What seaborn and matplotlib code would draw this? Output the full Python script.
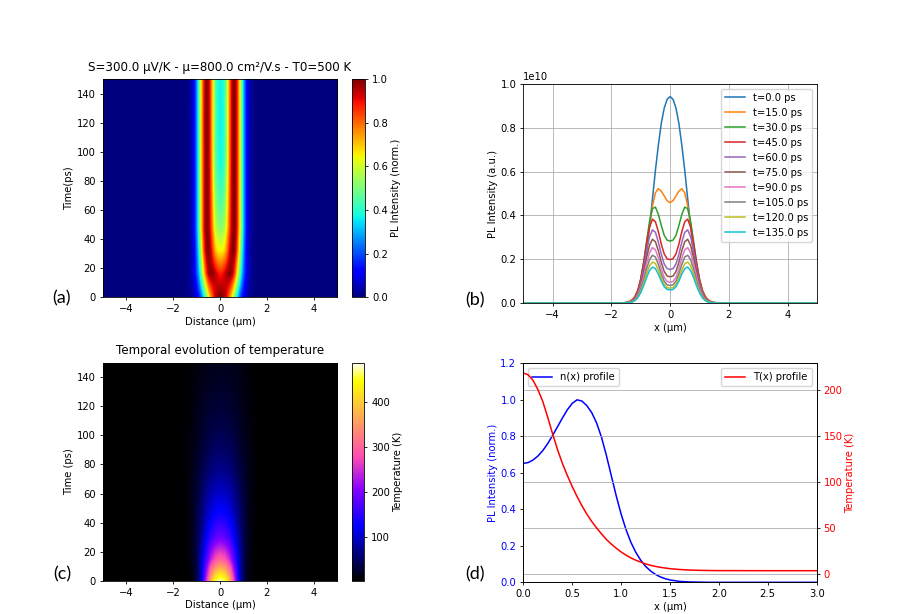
import numpy as np
import pandas as pd
import matplotlib
matplotlib.use("Agg")
import matplotlib.pyplot as plt
import seaborn as sns

plt.rcParams.update({
    "font.family": ["DejaVu Sans"],
    "font.size": 7.2,
    "axes.titlesize": 8.6,
    "legend.fontsize": 7.2,
    "axes.linewidth": 0.6,
    "axes.labelpad": 2.0,
    "lines.linewidth": 1.1,
    "xtick.major.width": 0.6,
    "ytick.major.width": 0.6,
    "xtick.major.size": 2.5,
    "ytick.major.size": 2.5,
    "xtick.major.pad": 2.5,
    "ytick.major.pad": 2.5,
    "grid.linewidth": 0.6,
})

# ---- panel (b) / (a): PL half profiles (x >= 0, symmetric), units of 1e10
x_pl = np.round(np.arange(0, 2.05, 0.1), 2)
times_ps = [0.0, 15.0, 30.0, 45.0, 60.0, 75.0, 90.0, 105.0, 120.0, 135.0]

pl_t0 = [0.943, 0.930, 0.890, 0.820, 0.720, 0.605, 0.475, 0.350, 0.235, 0.150, 0.090,
         0.052, 0.028, 0.014, 0.007, 0.003, 0.001, 0.0, 0.0, 0.0, 0.0]
pl_t15 = [0.458, 0.467, 0.489, 0.511, 0.522, 0.503, 0.443, 0.356, 0.262, 0.175, 0.107,
          0.060, 0.031, 0.014, 0.006, 0.002, 0.001, 0.0, 0.0, 0.0, 0.0]
pl_t30 = [0.283, 0.287, 0.309, 0.354, 0.405, 0.438, 0.431, 0.372, 0.281, 0.186, 0.108,
          0.055, 0.024, 0.009, 0.003, 0.001, 0.0, 0.0, 0.0, 0.0, 0.0]
pl_t45 = [0.198, 0.202, 0.224, 0.269, 0.326, 0.371, 0.383, 0.346, 0.272, 0.185, 0.109,
          0.056, 0.025, 0.009, 0.003, 0.001, 0.0, 0.0, 0.0, 0.0, 0.0]
pl_t60 = [0.153, 0.157, 0.178, 0.223, 0.278, 0.323, 0.334, 0.302, 0.237, 0.161, 0.095,
          0.049, 0.022, 0.008, 0.003, 0.001, 0.0, 0.0, 0.0, 0.0, 0.0]
pl_t75 = [0.120, 0.123, 0.144, 0.186, 0.239, 0.280, 0.291, 0.263, 0.207, 0.141, 0.083,
          0.042, 0.019, 0.007, 0.002, 0.001, 0.0, 0.0, 0.0, 0.0, 0.0]
pl_t90 = [0.095, 0.098, 0.117, 0.156, 0.205, 0.243, 0.253, 0.229, 0.180, 0.122, 0.072,
          0.037, 0.016, 0.006, 0.002, 0.001, 0.0, 0.0, 0.0, 0.0, 0.0]
pl_t105 = [0.080, 0.083, 0.099, 0.133, 0.176, 0.210, 0.218, 0.198, 0.155, 0.105, 0.062,
           0.032, 0.014, 0.005, 0.002, 0.001, 0.0, 0.0, 0.0, 0.0, 0.0]
pl_t120 = [0.068, 0.070, 0.085, 0.114, 0.151, 0.180, 0.187, 0.170, 0.133, 0.090, 0.053,
           0.027, 0.012, 0.005, 0.002, 0.0, 0.0, 0.0, 0.0, 0.0, 0.0]
pl_t135 = [0.060, 0.062, 0.074, 0.100, 0.132, 0.157, 0.164, 0.148, 0.116, 0.079, 0.047,
           0.024, 0.011, 0.004, 0.001, 0.0, 0.0, 0.0, 0.0, 0.0, 0.0]
pl_profiles = [pl_t0, pl_t15, pl_t30, pl_t45, pl_t60, pl_t75, pl_t90, pl_t105, pl_t120, pl_t135]

# ---- panel (c): temperature (K), half profiles x = 0..2 um, every 15 ps
x_temp = np.round(np.arange(0, 2.05, 0.2), 2)
t_temp = [0, 15, 30, 45, 60, 75, 90, 105, 120, 135, 150]
temp_t0 = [487, 460, 385, 250, 110, 35, 9, 3.5, 2.2, 2, 2]
temp_t15 = [300, 285, 240, 170, 95, 40, 14, 5, 2.7, 2.2, 2]
temp_t30 = [190, 182, 158, 120, 75, 38, 16, 6.5, 3.3, 2.4, 2.1]
temp_t45 = [135, 130, 115, 90, 60, 34, 16, 7.5, 3.8, 2.6, 2.2]
temp_t60 = [100, 96, 86, 70, 49, 30, 16, 8, 4.2, 2.8, 2.3]
temp_t75 = [72, 69, 62, 51, 37, 24, 14, 7.5, 4.2, 2.9, 2.4]
temp_t90 = [52, 50, 46, 38, 28, 19, 12, 7, 4.1, 3.0, 2.4]
temp_t105 = [38, 37, 34, 29, 22, 15, 10, 6.2, 4.0, 3.0, 2.4]
temp_t120 = [28, 27, 25.5, 22, 17.5, 12.5, 8.5, 5.6, 3.8, 2.9, 2.4]
temp_t135 = [21, 20.5, 19.3, 17, 14, 10.5, 7.3, 5.0, 3.6, 2.8, 2.4]
temp_t150 = [16, 15.6, 14.8, 13.2, 11.2, 8.7, 6.4, 4.5, 3.3, 2.7, 2.3]
temp_rows = [temp_t0, temp_t15, temp_t30, temp_t45, temp_t60, temp_t75,
             temp_t90, temp_t105, temp_t120, temp_t135, temp_t150]
T_AMBIENT = 2.0

# ---- panel (d): single profiles
x_prof = [0.0, 0.05, 0.1, 0.15, 0.2, 0.25, 0.3, 0.35, 0.4, 0.45, 0.5, 0.55, 0.6, 0.65,
          0.7, 0.75, 0.8, 0.85, 0.9, 0.95, 1.0, 1.05, 1.1, 1.15, 1.2, 1.25, 1.3, 1.35,
          1.4, 1.45, 1.5, 1.6, 1.7, 1.8, 1.9, 2.0, 2.5, 3.0]
n_prof = [0.652, 0.656, 0.670, 0.692, 0.722, 0.760, 0.805, 0.852, 0.900, 0.945, 0.980,
          1.000, 0.993, 0.968, 0.930, 0.873, 0.795, 0.695, 0.585, 0.475, 0.375, 0.290,
          0.220, 0.165, 0.122, 0.088, 0.063, 0.044, 0.030, 0.020, 0.013, 0.005, 0.002,
          0.001, 0.0, 0.0, 0.0, 0.0]
T_prof = [218, 216, 210, 200, 187, 170, 152, 135, 120, 107, 95, 84, 74, 65, 57, 50,
          43.5, 37.5, 32.5, 28, 24, 20.5, 17.5, 15, 13, 11, 9.5, 8.3, 7.3, 6.5, 5.8,
          4.9, 4.3, 4.0, 3.8, 3.7, 3.6, 3.6]


def mirror(v):
    v = np.asarray(v, dtype=float)
    return np.concatenate([v[:0:-1], v])


fig = plt.figure(figsize=(8.98, 6.14), dpi=100)

# ---------------- (a) normalised PL map
n_pad = 30  # zero columns from 2.1 to 5.0 um
img_a = np.array([mirror(np.concatenate([p, np.zeros(n_pad)])) for p in pl_profiles])
img_a = img_a / img_a.max(axis=1, keepdims=True)
ax_a = fig.add_axes([0.1147, 0.5158, 0.2606, 0.3555])
im_a = ax_a.imshow(img_a, cmap="jet", origin="lower", aspect="auto",
                   extent=[-5.05, 5.05, -7.5, 150], interpolation="bilinear",
                   interpolation_stage="data", vmin=0, vmax=1)
ax_a.set_xlim(-5, 5)
ax_a.set_ylim(0, 150)
ax_a.set_title("S=300.0 µV/K - µ=800.0 cm²/V.s - T0=500 K")
ax_a.set_xlabel("Distance (µm)")
ax_a.set_ylabel("Time(ps)")
cax_a = fig.add_axes([0.392, 0.5158, 0.0145, 0.3555])
cb_a = fig.colorbar(im_a, cax=cax_a)
cb_a.set_label("PL Intensity (norm.)")
cb_a.outline.set_linewidth(0.6)

# ---------------- (b) PL profiles
ax_b = fig.add_axes([0.5827, 0.5065, 0.3270, 0.3567])
x_line = mirror(np.append(x_pl, 5.0)) * np.sign(np.arange(-len(x_pl), len(x_pl) + 1))
colors = sns.color_palette("tab10", len(pl_profiles))
for t, prof, c in zip(times_ps, pl_profiles, colors):
    y_line = mirror(np.append(prof, 0.0)) * 1e10
    sns.lineplot(x=x_line, y=y_line, ax=ax_b, color=c, label=f"t={t:.1f} ps",
                 linewidth=1.1, sort=False)
ax_b.set_xlim(-5, 5)
ax_b.set_ylim(0, 1.0e10)
ax_b.grid(True)
ax_b.set_xlabel("x (µm)")
ax_b.set_ylabel("PL Intensity (a.u.)")
ax_b.legend(loc="upper right")

# ---------------- (c) temperature map
n_pad_t = 15  # ambient columns from 2.2 to 5.0 um
img_c = np.array([mirror(np.concatenate([r, np.full(n_pad_t, T_AMBIENT)])) for r in temp_rows])
ax_c = fig.add_axes([0.1147, 0.0542, 0.2606, 0.3550])
im_c = ax_c.imshow(img_c, cmap="gnuplot2", origin="lower", aspect="auto",
                   extent=[-5.1, 5.1, -7.5, 157.5], interpolation="bilinear",
                   interpolation_stage="data")
ax_c.set_xlim(-5, 5)
ax_c.set_ylim(0, 150)
ax_c.set_title("Temporal evolution of temperature")
ax_c.set_xlabel("Distance (µm)")
ax_c.set_ylabel("Time (ps)")
cax_c = fig.add_axes([0.392, 0.0542, 0.0135, 0.3550])
cb_c = fig.colorbar(im_c, cax=cax_c)
cb_c.set_ticks([100, 200, 300, 400])
cb_c.set_label("Temperature (K)")
cb_c.outline.set_linewidth(0.6)

# ---------------- (d) n(x) and T(x)
df_d = pd.DataFrame({"x": x_prof, "n": n_prof, "T": T_prof})
ax_d = fig.add_axes([0.5827, 0.0516, 0.3267, 0.3567])
sns.lineplot(data=df_d, x="x", y="n", ax=ax_d, color="blue", label="n(x) profile")
ax_d.set_xlim(0, 3)
ax_d.set_ylim(0, 1.2)
ax_d.set_xlabel("x (µm)")
ax_d.set_ylabel("PL Intensity (norm.)", color="blue")
ax_d.tick_params(axis="y", labelcolor="blue")
ax_d.legend(loc="upper left")
ax_d2 = ax_d.twinx()
sns.lineplot(data=df_d, x="x", y="T", ax=ax_d2, color="red", label="T(x) profile")
ax_d2.set_ylim(-9, 228.5)
ax_d2.set_ylabel("Temperature (K)", color="red")
ax_d2.tick_params(axis="y", labelcolor="red")
ax_d2.grid(True, axis="y")
ax_d2.legend(loc="upper right")

# panel letters
for lab, (px, py) in {"(a)": (62, 298), "(b)": (475, 300),
                      "(c)": (62, 574), "(d)": (475, 574)}.items():
    fig.text(px / 898, 1 - py / 614, lab, fontsize=13, ha="center", va="center",
             family=["Lato", "DejaVu Sans"])

fig.savefig("out.png", dpi=100)
